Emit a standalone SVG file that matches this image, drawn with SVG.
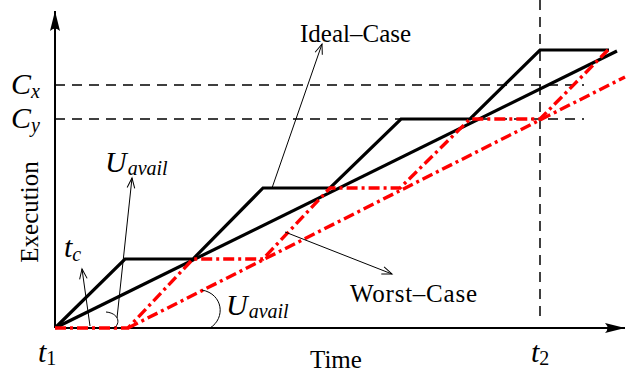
<svg xmlns="http://www.w3.org/2000/svg" width="627" height="377" viewBox="0 0 627 377">
<defs>
<style>
.txt{font-family:"Liberation Serif","Times New Roman",serif;font-size:25px;fill:#000}
.m{font-family:"Liberation Serif","Times New Roman",serif;font-size:30px;font-style:italic;fill:#000}
.sub{font-size:20px}
.subn{font-size:20px;font-style:normal}
.axis{stroke:#000;stroke-width:2;fill:none}
.dash{stroke:#000;stroke-width:1.5;stroke-dasharray:10,7;fill:none}
.blk{stroke:#000;stroke-width:3.2;fill:none;stroke-linejoin:miter}
.red{stroke:#ff0000;stroke-width:3.4;fill:none;stroke-dasharray:11,4,3,4}
.thin{stroke:#000;stroke-width:1;fill:none}
</style>
<marker id="open" markerUnits="userSpaceOnUse" markerWidth="14" markerHeight="12" viewBox="-12 -6 14 12" refX="0" refY="0" orient="auto">
<path d="M-10,-3.8 L0,0 L-10,3.8" fill="none" stroke="#000" stroke-width="1"/>
</marker>
<marker id="axhead" markerUnits="userSpaceOnUse" markerWidth="24" markerHeight="14" viewBox="-22 -7 24 14" refX="0" refY="0" orient="auto">
<path d="M0,0 L-20,-5 Q-15,0 -20,5 Z" fill="#000"/>
</marker>
</defs>

<g id="axes">
<line class="axis" x1="55" y1="328" x2="55" y2="11" marker-end="url(#axhead)"/>
<line class="axis" x1="55" y1="328" x2="625" y2="328" marker-end="url(#axhead)"/>
</g>

<g id="guides">
<line class="dash" x1="55" y1="85" x2="584" y2="85"/>
<line class="dash" x1="55" y1="119" x2="584" y2="119"/>
<line class="dash" x1="540" y1="0" x2="540" y2="321"/>
</g>

<g id="curves">
<polyline class="blk" points="55,328 125,259 193,259 263,188 330,188 401,119 470,119 540,50 609,50"/>
<line class="blk" x1="55" y1="328" x2="617" y2="51"/>
<polyline class="red" points="55,328 128,328 193,259 263,259 330,188 400,188 470,119 540,119 608,50"/>
<line class="red" x1="128" y1="328" x2="625" y2="77"/>
</g>

<g id="connectors">
<line class="thin" x1="272" y1="188" x2="322" y2="44" marker-end="url(#open)"/>
<line class="thin" x1="117" y1="318" x2="132" y2="178" marker-end="url(#open)"/>
<line class="thin" x1="90" y1="326" x2="82" y2="269" marker-end="url(#open)"/>
<line class="thin" x1="285" y1="232" x2="392" y2="274" marker-end="url(#open)"/>
<path class="thin" d="M106,312 C118,313 122,323 113,329"/>
<path class="thin" d="M202,290 C223,294 226,318 210,328"/>
</g>

<g id="labels">
<text class="txt" x="300" y="42">Ideal–Case</text>
<text class="txt" x="350" y="302" textLength="127">Worst–Case</text>
<text class="txt" x="310" y="368">Time</text>
<text class="txt" transform="translate(38,212) rotate(-90)" text-anchor="middle">Execution</text>
<text class="m" x="11" y="94">C<tspan class="sub" dy="4">x</tspan></text>
<text class="m" x="11" y="128">C<tspan class="sub" dy="4">y</tspan></text>
<text class="m" x="105" y="172">U<tspan class="sub" dx="1" dy="3">avail</tspan></text>
<text class="m" x="226" y="315">U<tspan class="sub" dx="1" dy="3">avail</tspan></text>
<text class="m" x="64" y="257">t<tspan class="sub" dy="4">c</tspan></text>
<text class="m" x="38" y="362">t<tspan class="subn" dy="3">1</tspan></text>
<text class="m" x="531" y="362">t<tspan class="subn" dy="3">2</tspan></text>
</g>
</svg>
